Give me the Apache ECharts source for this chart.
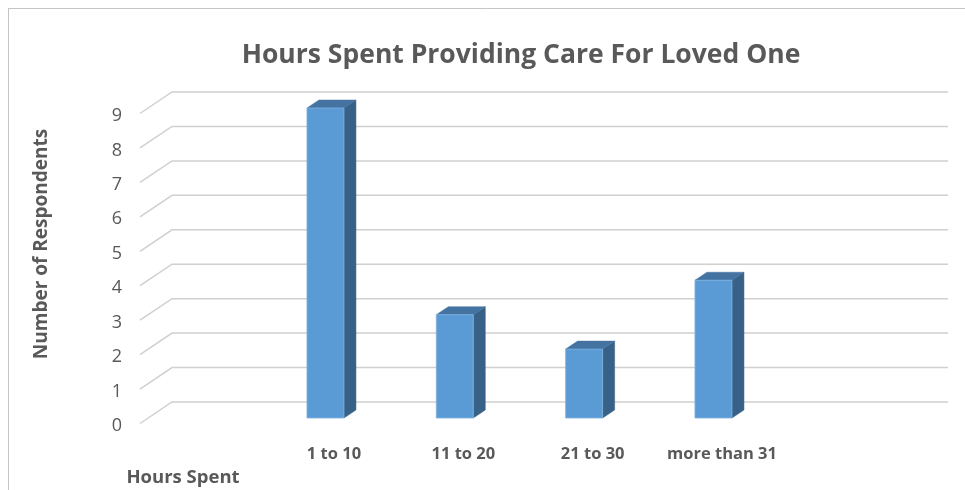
<!DOCTYPE html>
<html>
<head>
<meta charset="utf-8">
<script src="https://cdn.jsdelivr.net/npm/echarts@6/dist/echarts.min.js"></script>
<style>html,body{margin:0;padding:0;background:#fff}#c{width:965px;height:490px}</style>
</head>
<body>
<div id="c"></div>
<script>
const title = 'Hours Spent Providing Care For Loved One';
const categories = ['1 to 10', '11 to 20', '21 to 30', 'more than 31'];
const values = [9, 3, 2, 4];
const yTicks = [0, 1, 2, 3, 4, 5, 6, 7, 8, 9];
const yAxisTitle = 'Number of Respondents';
const xAxisTitle = 'Hours Spent';

const DX = 32, DY = 21.5;       // depth of the back wall
const BDX = 12, BDY = 8;        // depth of each bar
const FONT = '"Open Sans", "Noto Sans", sans-serif';
const TXT = '#595959';

const chart = echarts.init(document.getElementById('c'), null, {renderer: 'canvas'});
const xData = [''].concat(categories, ['']);

chart.setOption({
  backgroundColor: '#fff',
  animation: false,
  grid: {left: 140, right: 49, top: 113.5, bottom: 66.5},
  xAxis: {
    type: 'category',
    data: xData,
    axisLine: {show: false},
    axisTick: {show: false},
    splitLine: {show: false},
    axisLabel: {color: TXT, fontFamily: FONT, fontWeight: 'bold', fontSize: 16.5, margin: 22, interval: 0}
  },
  yAxis: {
    type: 'value',
    min: 0, max: 9, interval: 1,
    axisLine: {show: false},
    axisTick: {show: false},
    splitLine: {show: false},
    axisLabel: {show: false}
  },
  graphic: [
    {type: 'line', shape: {x1: 8.5, y1: 8, x2: 8.5, y2: 490}, style: {stroke: '#C4C4C4', lineWidth: 1}, silent: true},
    {type: 'line', shape: {x1: 8, y1: 8.5, x2: 965, y2: 8.5}, style: {stroke: '#C4C4C4', lineWidth: 1}, silent: true},
    {type: 'text', x: 521, y: 55, style: {text: title, fill: TXT, font: 'bold 26.5px ' + FONT, textAlign: 'center', textVerticalAlign: 'middle'}},
    {type: 'text', x: 42, y: 244, rotation: Math.PI / 2, style: {text: yAxisTitle, fill: TXT, font: 'bold 19px ' + FONT, textAlign: 'center', textVerticalAlign: 'middle'}},
    {type: 'text', x: 183, y: 478, style: {text: xAxisTitle, fill: TXT, font: 'bold 18.5px ' + FONT, textAlign: 'center', textVerticalAlign: 'middle'}}
  ],
  series: [
    {
      type: 'custom',
      silent: true,
      z: 1,
      data: yTicks.map(v => [0, v]),
      renderItem: function (params, api) {
        const cs = params.coordSys;
        const v = api.value(1);
        const y = api.coord([0, v])[1];
        return {
          type: 'group',
          children: [
            {type: 'polyline',
              shape: {points: [[cs.x, y], [cs.x + DX, y - DY], [cs.x + cs.width + DX, y - DY]]},
              style: {stroke: '#D0D0D0', lineWidth: 1.5, fill: null}},
            {type: 'text', x: cs.x - 18, y: y + 2.5,
              style: {text: String(v), fill: TXT, font: '18px ' + FONT, textAlign: 'right', textVerticalAlign: 'middle'}}
          ]
        };
      }
    },
    {
      type: 'custom',
      silent: true,
      z: 2,
      data: values.map((v, i) => [i + 1, v]),
      renderItem: function (params, api) {
        const idx = api.value(0), val = api.value(1);
        const top = api.coord([idx, val]);
        const base = api.coord([idx, 0]);
        const bw = api.size([1, 0])[0];
        const x0 = top[0] - 0.209 * bw;
        const w = 0.286 * bw;
        const yt = top[1] - 5.5, yb = base[1] - 5.5;
        return {
          type: 'group',
          children: [
            {type: 'polygon', shape: {points: [[x0 + w, yt], [x0 + w + BDX, yt - BDY], [x0 + w + BDX, yb - BDY], [x0 + w, yb]]},
              style: {fill: '#386188', stroke: '#386188', lineWidth: 0.5}},
            {type: 'polygon', shape: {points: [[x0, yt], [x0 + BDX, yt - BDY], [x0 + w + BDX, yt - BDY], [x0 + w, yt]]},
              style: {fill: '#4473A2', stroke: '#4473A2', lineWidth: 0.5}},
            {type: 'rect', shape: {x: x0, y: yt, width: w, height: yb - yt},
              style: {fill: '#5B9BD5', stroke: '#7FB2E0', lineWidth: 0.8}}
          ]
        };
      }
    }
  ]
});
</script>
</body>
</html>
